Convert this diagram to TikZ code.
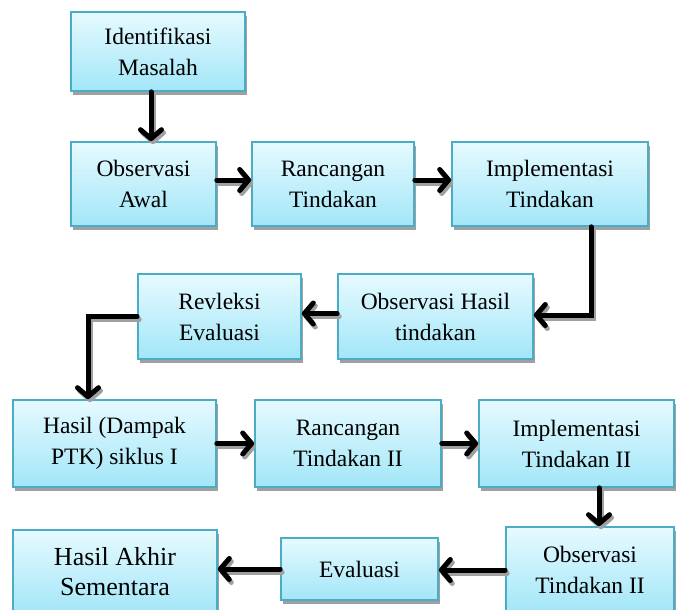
\documentclass[tikz,border=0pt]{standalone}
\usepackage{fontspec}
\setmainfont{Liberation Serif}
\usetikzlibrary{arrows.meta,shadows,calc}
\definecolor{boxborder}{HTML}{4BACC6}
\definecolor{boxtop}{HTML}{E6FAFF}
\definecolor{boxbot}{HTML}{A2E6F8}
\definecolor{shadowgray}{HTML}{A0A0A0}
\tikzset{
  box/.style={draw=boxborder, line width=1.6pt, top color=boxtop, bottom color=boxbot,
    align=center, inner sep=0pt, font=\fontsize{23.5}{31}\selectfont,
    drop shadow={shadow xshift=2pt, shadow yshift=-4pt, fill=shadowgray, opacity=1}},
  arrowline/.style={line width=5pt, line cap=round, line join=miter,
    -{Straight Barb[length=9pt,width=21pt,round]}},
  arrowshadow/.style={arrowline, draw=shadowgray, transform canvas={shift={(2pt,-3pt)}}},
  arrowmain/.style={arrowline, draw=black}
}
\newcommand\connector[1]{\draw[arrowshadow] #1; \draw[arrowmain] #1;}
\begin{document}
\begin{tikzpicture}[x=1pt,y=-1pt]
\useasboundingbox (0,0) rectangle (681,610);
\node[box, minimum width=174pt, minimum height=79pt] (ident) at (158,51.5) {Identifikasi\\Masalah};
\node[box, minimum width=145pt, minimum height=84pt] (obsawal) at (143.5,184) {Observasi\\Awal};
\node[box, minimum width=162pt, minimum height=84pt] (ranc) at (333,184) {Rancangan\\Tindakan};
\node[box, minimum width=196pt, minimum height=84pt] (impl) at (550,184) {Implementasi\\Tindakan};
\node[box, minimum width=195pt, minimum height=85pt] (obshasil) at (435.5,316.5) {Observasi Hasil\\tindakan};
\node[box, minimum width=163pt, minimum height=85pt] (revleksi) at (219.5,316.5) {Revleksi\\Evaluasi};
\node[box, minimum width=203pt, minimum height=87pt] (hasil) at (114.5,443.5) {Hasil (Dampak\\PTK) siklus I};
\node[box, minimum width=186pt, minimum height=87pt] (ranc2) at (348,443.5) {Rancangan\\Tindakan II};
\node[box, minimum width=195pt, minimum height=87pt] (impl2) at (576.5,443.5) {Implementasi\\Tindakan II};
\node[box, minimum width=168pt, minimum height=86pt] (obstind2) at (590,570) {Observasi\\Tindakan II};
\node[box, minimum width=157pt, minimum height=62pt] (evaluasi) at (359.5,569) {Evaluasi};
\node[box, minimum width=204pt, minimum height=84pt, font=\fontsize{26}{30}\selectfont] (akhir) at (115,572) {Hasil Akhir\\Sementara};

\connector{([xshift=-7pt]ident.south) -- ([xshift=-7pt]ident.south |- obsawal.north)}
\connector{([yshift=4pt]obsawal.east) -- ([yshift=4pt]obsawal.east -| ranc.west)}
\connector{([yshift=4pt]ranc.east) -- ([yshift=4pt]ranc.east -| impl.west)}
\connector{([xshift=41pt]impl.south) |- ([yshift=1.5pt]obshasil.east)}
\connector{([yshift=3pt]obshasil.west) -- ([yshift=3pt]obshasil.west -| revleksi.east)}
\connector{(revleksi.west) -| ([xshift=-26.5pt]hasil.north)}
\connector{(hasil.east) -- (hasil.east -| ranc2.west)}
\connector{(ranc2.east) -- (ranc2.east -| impl2.west)}
\connector{([xshift=22.5pt]impl2.south) -- ([xshift=22.5pt]impl2.south |- obstind2.north)}
\connector{(obstind2.west) -- (obstind2.west -| evaluasi.east)}
\connector{(evaluasi.west) -- (evaluasi.west -| akhir.east)}
\end{tikzpicture}
\end{document}
